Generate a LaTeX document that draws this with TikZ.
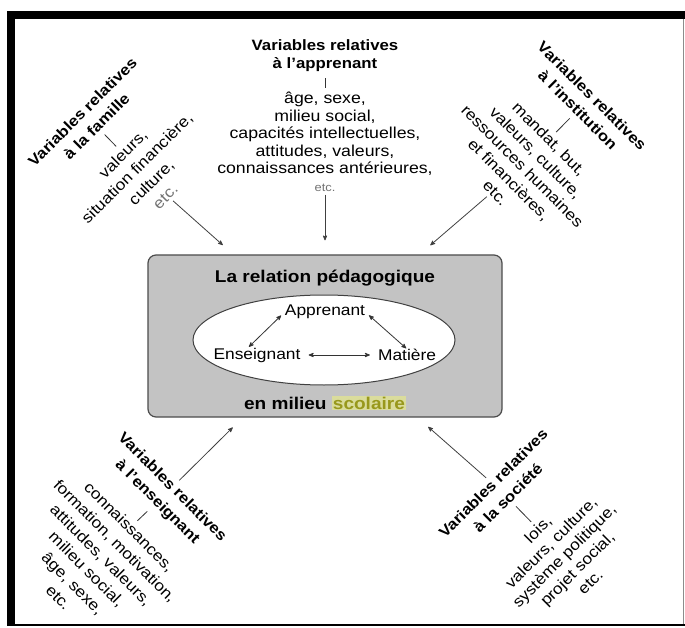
\documentclass[tikz,border=0pt]{standalone}
\usepackage{fontspec}
\setmainfont{Liberation Sans}[FakeStretch=1.12]
\usepackage{tikz}
\usetikzlibrary{arrows,positioning,calc,shapes.geometric}

\definecolor{boxgray}{HTML}{C3C3C3}
\definecolor{olivetext}{HTML}{98981C}
\definecolor{olivemark}{HTML}{DADC9C}
\newcommand{\etcgray}[1]{{\color{black!55}#1}}

\begin{document}
\begin{tikzpicture}[x=1pt,y=-1pt,>=stealth',node distance=20pt,
  head/.style={font=\bfseries\fontsize{15}{20}\selectfont,align=center,inner sep=0pt},
  items/.style={font=\fontsize{15.5}{19.5}\selectfont,align=center,inner sep=0pt},
  tick/.style={-,thick,draw=black!80,shorten <=6pt,shorten >=4pt},
  feed/.style={->,thick,draw=black!75,shorten <=3pt,shorten >=14pt},
  link/.style={<->,thick,draw=black!80}]

  % frame
  \useasboundingbox (0,0) rectangle (685,628);
  \fill[black] (7,11) rectangle (685,19);
  \fill[black] (7,11) rectangle (15,626);
  \draw[black!45,line width=1pt] (683.5,19) -- (683.5,626);
  \draw[black,line width=1.5pt] (15,625) -- (685,625);

  % the relation
  \node[draw=black!70,line width=1.2pt,fill=boxgray,rounded corners=8pt,
        minimum width=354pt,minimum height=162pt] (box) at (325,336) {};
  \node[ellipse,draw=black!75,line width=1pt,fill=white,
        minimum width=262pt,minimum height=90pt] (oval) at (324,340) {};
  \node[head,font=\bfseries\fontsize{17}{20}\selectfont] (title) at (325,278) {La relation pédagogique};
  \node[items,font=\fontsize{15.5}{18}\selectfont] (app) at (325,312) {Apprenant};
  \node[items,font=\fontsize{15.5}{18}\selectfont] (ens) at (257,355) {Enseignant};
  \node[items,font=\fontsize{15.5}{18}\selectfont] (mat) at (407,355) {Matière};
  \node[head,font=\bfseries\fontsize{17}{20}\selectfont] (milieu) at (325,403)
    {en milieu {\setlength\fboxsep{1pt}\colorbox{olivemark}{\color{olivetext}scolaire}}};
  \draw[link,shorten <=5pt,shorten >=1pt] (app.west) -- (ens.140);
  \draw[link,shorten <=5pt,shorten >=1pt] (app.east) -- (mat.north);
  \draw[link,shorten <=8pt,shorten >=8pt] (ens) -- (mat);

  % apprenant
  \node[head,font=\bfseries\fontsize{15}{18}\selectfont] (appH) at (325,56) {Variables relatives\\à l'apprenant};
  \node[items,font=\fontsize{15.8}{17.5}\selectfont,below=of appH] (appL)
    {âge, sexe,\\milieu social,\\capacités intellectuelles,\\attitudes, valeurs,\\connaissances antérieures,\\
     \etcgray{\fontsize{11.5}{14}\selectfont etc.}};
  \draw[tick] (appH) -- (appL);
  \draw[feed] (appL) -- (box);

  % famille
  \node[head,rotate=45] (famH) at (89.5,119) {Variables relatives\\à la famille};
  \node[items,rotate=45,font=\fontsize{15.5}{20}\selectfont] (famL) at (144,175)
    {valeurs,\\situation financière,\\culture,\\\etcgray{etc.}};
  \draw[tick] (famH) -- (famL);
  \draw[feed] (famL) -- (box);

  % institution
  \node[head,rotate=-45] (insH) at (585,103) {Variables relatives\\à l'institution};
  \node[items,rotate=-45,font=\fontsize{15.5}{19}\selectfont] (insL) at (522.5,166)
    {mandat, but,\\valeurs, culture,\\ressources humaines\\et financières,\\etc.};
  \draw[tick] (insH) -- (insL);
  \draw[feed] (insL) -- (box);

  % enseignant
  \node[head,rotate=-45,font=\bfseries\fontsize{15}{21}\selectfont] (ensH) at (164.5,495) {Variables relatives\\à l'enseignant};
  \node[items,rotate=-45,font=\fontsize{15.5}{20}\selectfont] (ensL) at (94,562)
    {connaissances,\\formation, motivation,\\attitudes, valeurs,\\milieu social,\\âge, sexe,\\etc.};
  \draw[tick] (ensH) -- (ensL);
  \draw[feed] (ensH) -- (box);

  % societe
  \node[head,rotate=45,font=\bfseries\fontsize{15}{21}\selectfont] (socH) at (500.5,490.5) {Variables relatives\\à la société};
  \node[items,rotate=45,font=\fontsize{15.5}{18.5}\selectfont] (socL) at (564,555.5)
    {lois,\\valeurs, culture,\\système politique,\\projet social,\\etc.};
  \draw[tick] (socH) -- (socL);
  \draw[feed] (socH) -- (box);
\end{tikzpicture}
\end{document}
